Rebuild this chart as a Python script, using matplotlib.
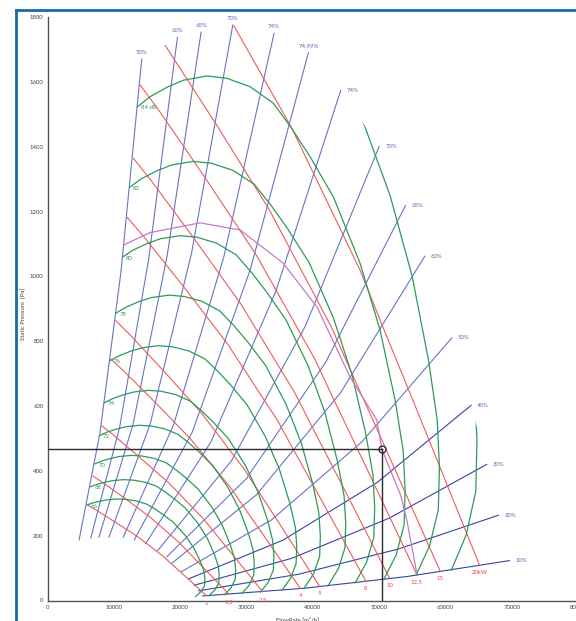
import numpy as np
import matplotlib
matplotlib.use("Agg")
import matplotlib.pyplot as plt
from matplotlib.patches import Polygon
from matplotlib.lines import Line2D

plt.rcParams['font.family'] = ['Lato', 'DejaVu Sans']

# ---------------- data ----------------
# blue iso-efficiency lines (bottom -> top)
eff_labels = ["50%", "60%", "65%", "70%", "74%", "74,99%", "74%", "70%",
              "65%", "60%", "50%", "40%", "30%", "20%", "10%"]
eff_q = [
    [4750, 7900, 11050, 14200],
    [6520, 10870, 15230, 19580],
    [7750, 12880, 18020, 23150],
    [9270, 15490, 21710, 27930],
    [11420, 19000, 26580, 34160],
    [13080, 21830, 30590, 39340],
    [14800, 24610, 34410, 44220],
    [16600, 27730, 38870, 50000],
    [17980, 29980, 41970, 53970],
    [18800, 31500, 44190, 56890],
    [20200, 33790, 47380, 60970],
    [21300, 35490, 49690, 63880],
    [22100, 36810, 51530, 66240],
    [22800, 37860, 52930, 67990],
    [23400, 38820, 54230, 69650],
]
eff_p = [
    [187, 517, 1011, 1670],
    [193, 535, 1051, 1737],
    [196, 543, 1062, 1753],
    [196, 546, 1072, 1775],
    [196, 542, 1060, 1750],
    [187, 520, 1022, 1690],
    [176, 488, 953, 1574],
    [154, 431, 846, 1400],
    [135, 376, 736, 1218],
    [116, 326, 641, 1062],
    [89, 249, 489, 810],
    [67, 186, 364, 602],
    [47, 130, 254, 420],
    [30, 81, 159, 263],
    [14, 38, 74, 123],
]

# green sound-level contours: shape of the 84 dB contour and size of each contour
db_shape_q = [13544, 15460, 17979, 20483, 24012, 27029, 30543, 34057, 36833, 39593,
              43107, 47134, 50151, 52413, 53620, 53922, 53771, 52564, 50700]
db_shape_p = [1523, 1554, 1583, 1605, 1618, 1611, 1585, 1534, 1456, 1369,
              1245, 1040, 834, 618, 464, 341, 233, 140, 65]
db_labels = ["", "", "84 dB", "82", "80", "78", "76", "74", "72", "70", "68", "66"]
db_size = [1.201, 1.096, 1.0, 0.915, 0.834, 0.763, 0.697, 0.633, 0.578, 0.526, 0.48, 0.44]

# red power lines: shape of the 20 kW line and size of each line
kw_shape_q = [16330, 19788, 27934, 36833, 47134, 50151, 56184, 65128]
kw_shape_p = [2175, 2063, 1779, 1457, 1019, 865, 563, 110]
kw_labels = ["1", "1,5", "2,5", "4", "5", "8", "10", "12,5", "15", "20kW"]
kw_size = [0.368, 0.42, 0.498, 0.585, 0.63, 0.737, 0.792, 0.855, 0.909, 1.0]

# purple fan curve through the duty point
fan_q = [11508, 15460, 23002, 29035, 35520, 40649, 45626, 49653, 50407, 53243, 54178, 55686]
fan_p = [1097, 1135, 1165, 1143, 1041, 905, 689, 557, 467, 325, 248, 84]

# duty point
op_q = 50400
op_p = 467

x_ticks = [0, 10000, 20000, 30000, 40000, 50000, 60000, 70000, 80000]
y_ticks = [0, 200, 400, 600, 800, 1000, 1200, 1400, 1600, 1800]

# ---------------- styles ----------------
C_BLUE = '#6676c2'
C_BLUE_D = '#3445a2'
C_RED = '#f05a5a'
C_GREEN = '#2e9a58'
C_PURPLE = '#c877c8'
FS = 4.3

W, H = 576, 621
fig = plt.figure(figsize=(W / 100, H / 100), dpi=100)
fig.patch.set_facecolor('white')
ax = fig.add_axes([47.6 / W, 20.5 / H, (578 - 47.6) / W, (600.5 - 17) / H])
ax.set_xlim(0, 80000)
ax.set_ylim(0, 1800)
ax.set_xticks(x_ticks)
ax.set_yticks(y_ticks)
ax.set_xticklabels([str(v) for v in x_ticks])
ax.set_yticklabels([str(v) for v in y_ticks])
ax.tick_params(length=0, labelsize=FS, colors='#444444', pad=3)
for s in ['top', 'right']:
    ax.spines[s].set_visible(False)
for s in ['left', 'bottom']:
    ax.spines[s].set_color('#555555')
    ax.spines[s].set_linewidth(1.0)

# clip region: below the line joining the tops of the efficiency lines
tops = [(q[-1], p[-1]) for q, p in zip(eff_q, eff_p)]
clip_xy = [(-5000, -500), (-5000, tops[0][1])] + tops + [(100000, tops[-1][1]), (100000, -500)]
clip_poly = Polygon(clip_xy, closed=True, fill=False, visible=False)
ax.add_patch(clip_poly)

# blue lines
for i, (q, p, lab) in enumerate(zip(eff_q, eff_p, eff_labels)):
    col = C_BLUE if i < 11 else C_BLUE_D
    ax.plot(q, p, color=col, lw=0.8, zorder=2)
    if i < 6:
        ax.annotate(lab, (q[-1], p[-1]), xytext=(0, 5), textcoords='offset points',
                    ha='center', va='center', fontsize=FS, color='#5a6ab8')
    else:
        ax.annotate(lab, (q[-1], p[-1]), xytext=(4.5, 0), textcoords='offset points',
                    ha='left', va='center', fontsize=FS, color='#5a6ab8')

# red lines
sq = np.array(kw_shape_q, float)
sp = np.array(kw_shape_p, float)
for s, lab in zip(kw_size, kw_labels):
    ln, = ax.plot(sq * s, sp * s * s, color=C_RED, lw=0.8, zorder=3)
    ln.set_clip_path(clip_poly)
    ax.annotate(lab, (sq[-1] * s, sp[-1] * s * s), xytext=(0, -5.5), textcoords='offset points',
                ha='center', va='center', fontsize=FS, color='#e84848')

# green lines
gq = np.array(db_shape_q, float)
gp = np.array(db_shape_p, float)
for s, lab in zip(db_size, db_labels):
    ln, = ax.plot(gq * s, gp * s * s, color=C_GREEN, lw=0.9, zorder=4)
    ln.set_clip_path(clip_poly)
    if lab:
        ax.annotate(lab, (gq[0] * s, gp[0] * s * s), xytext=(2.5, -0.8), textcoords='offset points',
                    ha='left', va='center', fontsize=FS, color='#3a9a5e')

# purple fan curve
ax.plot(fan_q, fan_p, color=C_PURPLE, lw=0.9, zorder=5)

# duty point lines
ax.plot([0, op_q], [op_p, op_p], color='#2a2a2a', lw=1.0, zorder=6)
ax.plot([op_q, op_q], [0, op_p], color='#2a2a2a', lw=1.0, zorder=6)
ax.plot([op_q], [op_p], marker='o', ms=5, mfc='none', mec='#222222', mew=0.9, zorder=7)

# axis titles
fig.text(23.7 / W, 1 - 313.5 / H, "Static Pressure  [Pa]", rotation=90, fontsize=FS,
         ha='center', va='center', color='#444444')
fig.text(297 / W, 1 - 616.5 / H, "FlowRate [m\u00b3/h]", fontsize=FS,
         ha='center', va='top', color='#444444')

# blue frame
fig.add_artist(Line2D([16 / W, 16 / W], [0, 1 - 10 / H], transform=fig.transFigure,
                      color='#1a6aa6', lw=2.0))
fig.add_artist(Line2D([16 / W, 1.0], [1 - 10 / H, 1 - 10 / H], transform=fig.transFigure,
                      color='#1a6aa6', lw=2.0))

fig.savefig('out.png', dpi=100)
